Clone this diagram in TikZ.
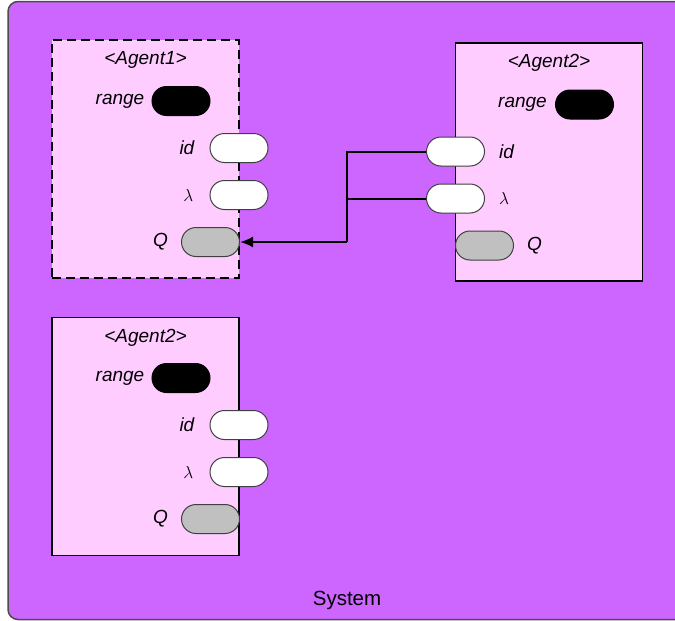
\documentclass[tikz,border=0pt]{standalone}
\usepackage{fontspec}
\setmainfont{Liberation Sans}
\usetikzlibrary{arrows.meta,shapes.misc,positioning,calc}
\definecolor{sysbg}{HTML}{CC66FF}
\definecolor{agbg}{HTML}{FFCCFF}
\definecolor{qgray}{HTML}{C0C0C0}
\newcommand{\lbl}{\fontsize{19}{22}\selectfont\itshape}

\begin{document}
\begin{tikzpicture}[x=1pt,y=-1pt,
    agent/.style={draw=black,line width=1.5pt,fill=agbg,inner sep=0pt,minimum width=187pt,minimum height=238pt},
    pill/.style={rounded rectangle,draw=black!75,line width=1pt,inner sep=0pt,minimum width=58pt,minimum height=29pt},
    port/.style={pill,fill=white},
    outp/.style={pill,fill=qgray},
    attr/.style={pill,fill=black,draw=black},
    txt/.style={inner sep=0pt,font=\lbl},
    wire/.style={line width=2pt}]
  \useasboundingbox (0,0) rectangle (675,621);
  \clip (0,0) rectangle (675,621);
  % system (runs past the right edge)
  \fill[sysbg,rounded corners=10pt] (8,1.5) rectangle (700,619.5);
  \draw[rounded corners=10pt,draw=black!70,line width=1.5pt] (700,1.5) -- (8,1.5) -- (8,619.5) -- (700,619.5);
  \node[inner sep=0pt,font=\fontsize{20.5}{24}\selectfont] (sys) at (347,600) {System};

  % agent 1 (dashed)
  \node[agent,dashed,dash pattern=on 9pt off 5pt] (a1) at (145.5,159) {};
  \node[txt,below=21pt of a1.north,anchor=center] (a1t) {<Agent1>};
  \node[attr] (a1range) at (181,101) {};
  \node[txt,left=7pt of a1range] {range};
  \node[port] (a1id) at (239,148) {};
  \node[txt,left=15pt of a1id] {id};
  \node[port] (a1lam) at (239,195) {};
  \node[txt,left=16pt of a1lam] {$\lambda$};
  \node[outp] (a1Q) at (210.5,242) {};
  \node[txt,left=13pt of a1Q] {Q};

  % agent 2 (top right)
  \node[agent] (a2) at (549,162) {};
  \node[txt,below=21pt of a2.north,anchor=center] (a2t) {<Agent2>};
  \node[attr] (a2range) at (584.5,104.5) {};
  \node[txt,left=8pt of a2range] {range};
  \node[port] (a2id) at (455.5,151.5) {};
  \node[txt,right=14pt of a2id] {id};
  \node[port] (a2lam) at (455.5,198.5) {};
  \node[txt,right=14pt of a2lam] {$\lambda$};
  \node[outp] (a2Q) at (484.5,245.5) {};
  \node[txt,right=13pt of a2Q] {Q};

  % agent 2 (bottom left)
  \node[agent] (a3) at (145.5,436.5) {};
  \node[txt,below=21pt of a3.north,anchor=center] (a3t) {<Agent2>};
  \node[attr] (a3range) at (181,378) {};
  \node[txt,left=7pt of a3range] {range};
  \node[port] (a3id) at (239,425) {};
  \node[txt,left=15pt of a3id] {id};
  \node[port] (a3lam) at (239,472) {};
  \node[txt,left=16pt of a3lam] {$\lambda$};
  \node[outp] (a3Q) at (210.5,519) {};
  \node[txt,left=13pt of a3Q] {Q};

  % connections
  \coordinate (bus) at (347,242);
  \draw[wire] (a2id.west) -- (a2id.west -| bus) -- (bus);
  \draw[wire] (a2lam.west) -- (a2lam.west -| bus);
  \draw[wire,-{Latex[length=13pt,width=11pt]}] (bus) -- (a1Q.east);
\end{tikzpicture}
\end{document}
